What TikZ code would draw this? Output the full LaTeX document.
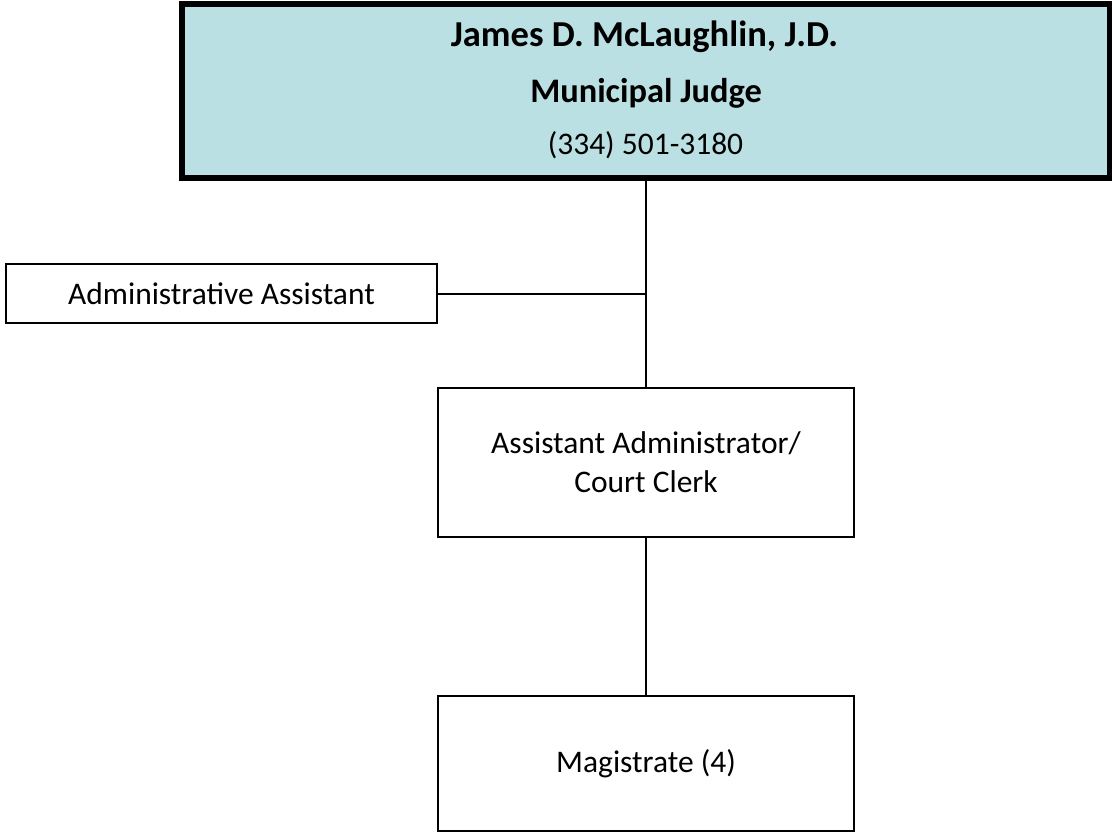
\documentclass[tikz,border=0pt]{standalone}
\usepackage{fontspec}
\setmainfont{Carlito}
\usepackage{tikz}
\usetikzlibrary{positioning,calc}
\definecolor{judgefill}{RGB}{187,224,227}
\tikzset{
	orgbox/.style={draw=black, line width=1.5pt, inner sep=0pt, outer sep=0pt, align=center, font=\fontsize{23.6}{29.25}\selectfont},
	topbox/.style={orgbox, fill=judgefill, line width=4.5pt},
	toptext/.style={inner sep=0pt, anchor=base, font=\fontsize{#1}{#1}\selectfont},
	toptext/.default=23.6
}

\begin{document}
\begin{tikzpicture}[x=0.75pt,y=-0.75pt]
\useasboundingbox (0,0) rectangle (1112,833);
\node[topbox, minimum width=695.6pt, minimum height=130.5pt] (judge) at (645.75,91) {};
\node[toptext=27.4] (judgename) at (644.5,46.7) {\textbf{James D. McLaughlin, J.D.}};
\node[toptext=25.8] (judgetitle) at (646,102.7) {\textbf{Municipal Judge}};
\node[toptext] (judgephone) at (645.5,154) {(334) 501-3180};
\node[orgbox, minimum width=323.25pt, minimum height=44.25pt] (admin) at (221.5,293.5) {Administrative Assistant};
\node[orgbox, minimum width=312pt, minimum height=111.75pt] (clerk) at (646,462.5) {Assistant Administrator/\\Court Clerk};
\node[orgbox, minimum width=312pt, minimum height=101.25pt] (mag) at (646,763.5) {Magistrate (4)};
\draw[line width=2pt] (judge.south -| clerk.north) -- (clerk.north);
\draw[line width=1.5pt] (admin.east) -- (admin.east -| clerk.north);
\draw[line width=2pt] (clerk.south) -- (mag.north);
\end{tikzpicture}
\end{document}
